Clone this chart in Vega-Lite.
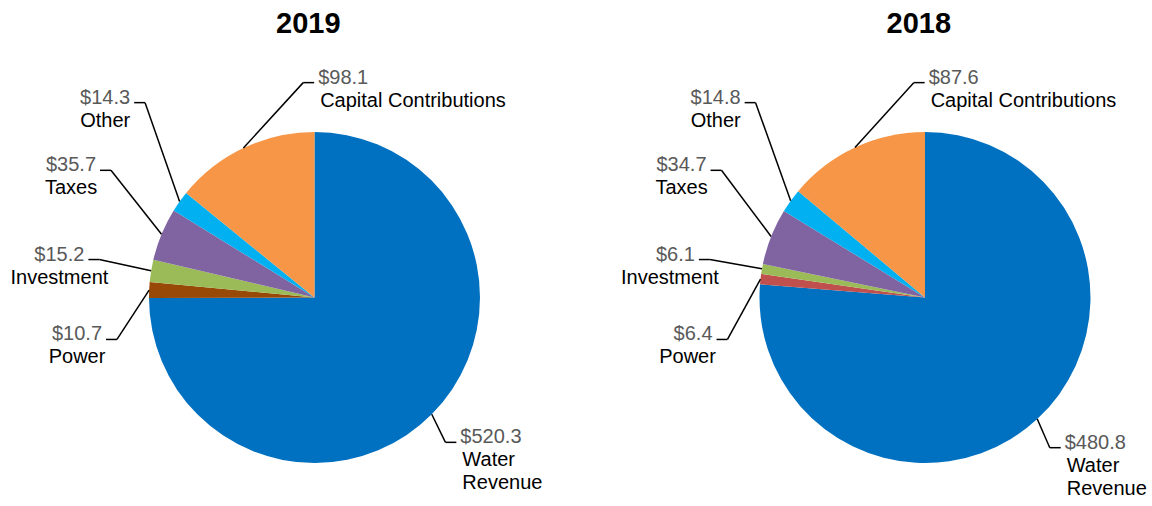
{
  "$schema": "https://vega.github.io/schema/vega-lite/v6.json",
  "padding": {"left": 0, "top": 10, "right": 0, "bottom": 0},
  "bounds": "flush",
  "data": {"values": [
    {"year": "2019", "category": "Water Revenue", "value": 520.3},
    {"year": "2019", "category": "Power", "value": 10.7},
    {"year": "2019", "category": "Investment", "value": 15.2},
    {"year": "2019", "category": "Taxes", "value": 35.7},
    {"year": "2019", "category": "Other", "value": 14.3},
    {"year": "2019", "category": "Capital Contributions", "value": 98.1},
    {"year": "2018", "category": "Water Revenue", "value": 480.8},
    {"year": "2018", "category": "Power", "value": 6.4},
    {"year": "2018", "category": "Investment", "value": 6.1},
    {"year": "2018", "category": "Taxes", "value": 34.7},
    {"year": "2018", "category": "Other", "value": 14.8},
    {"year": "2018", "category": "Capital Contributions", "value": 87.6}
  ]},
  "transform": [
    {"window": [{"op": "row_number", "as": "rn"}], "groupby": ["year"]},
    {"window": [{"op": "sum", "field": "value", "as": "cum"}], "groupby": ["year"], "sort": [{"field": "rn"}], "frame": [null, 0]},
    {"joinaggregate": [{"op": "sum", "field": "value", "as": "total"}], "groupby": ["year"]},
    {"calculate": "2*PI*(datum.cum - datum.value)/datum.total", "as": "a0"},
    {"calculate": "2*PI*datum.cum/datum.total", "as": "a1"},
    {"calculate": "(datum.a0 + datum.a1)/2", "as": "mid"},
    {"calculate": "datum.rn - 1", "as": "i"},
    {"calculate": "datum.i == 0 ? datum.mid + 3*PI/180 : [0, 258, 280, 302, 319, 357][datum.i]*PI/180", "as": "ea"},
    {"calculate": "[1.18, 1.22, 1.32, 1.45, 1.56, 1.3][datum.i]", "as": "er"},
    {"calculate": "sin(datum.mid)", "as": "px"},
    {"calculate": "cos(datum.mid)", "as": "py"},
    {"calculate": "datum.er*sin(datum.ea)", "as": "ex"},
    {"calculate": "datum.er*cos(datum.ea)", "as": "ey"},
    {"calculate": "datum.ex < -0.3 ? -1 : 1", "as": "side"},
    {"calculate": "datum.ex + datum.side*0.066", "as": "tx"},
    {"calculate": "'$' + format(datum.value, '.1f')", "as": "vlabel"},
    {"calculate": "datum.ey < -0.5 ? split(datum.category, ' ') : datum.category", "as": "nlabel"},
    {"calculate": "datum.category == 'Power' ? 'Power ' + datum.year : datum.category", "as": "ckey"}
  ],
  "facet": {"column": {"field": "year", "type": "nominal", "sort": "descending",
    "header": {"title": null, "labelFontSize": 29, "labelFontWeight": "bold", "labelFont": "Liberation Sans", "labelColor": "#000000", "labelPadding": 20, "labelAlign": "left"}}},
  "spacing": 58.5,
  "spec": {
    "width": 552,
    "height": 446,
    "layer": [
      {
        "mark": {"type": "arc", "outerRadius": 165.5},
        "encoding": {
          "x": {"datum": 0, "type": "quantitative", "scale": {"domain": [-1.9, 1.435], "nice": false, "zero": false}, "axis": null},
          "y": {"datum": 0, "type": "quantitative", "scale": {"domain": [-1.254, 1.441], "nice": false, "zero": false}, "axis": null},
          "theta": {"field": "a0", "type": "quantitative", "scale": null},
          "theta2": {"field": "a1"},
          "color": {"field": "ckey", "type": "nominal", "legend": null,
            "scale": {"domain": ["Water Revenue", "Power 2019", "Power 2018", "Investment", "Taxes", "Other", "Capital Contributions"],
                      "range": ["#0070C0", "#984807", "#C0504D", "#9BBB59", "#8064A2", "#00B0F0", "#F79646"]}}
        }
      },
      {
        "mark": {"type": "rule", "color": "#000000", "strokeWidth": 1.5},
        "encoding": {
          "x": {"field": "px", "type": "quantitative"},
          "y": {"field": "py", "type": "quantitative"},
          "x2": {"field": "ex"},
          "y2": {"field": "ey"}
        }
      },
      {
        "mark": {"type": "rule", "color": "#000000", "strokeWidth": 1.5},
        "encoding": {
          "x": {"field": "ex", "type": "quantitative"},
          "y": {"field": "ey", "type": "quantitative"},
          "x2": {"field": "tx"},
          "y2": {"field": "ey"}
        }
      },
      {
        "transform": [{"filter": "datum.side < 0"}],
        "mark": {"type": "text", "align": "right", "baseline": "middle", "dx": -4, "dy": -5, "fontSize": 20, "font": "Liberation Sans", "color": "#595959"},
        "encoding": {
          "x": {"field": "tx", "type": "quantitative"},
          "y": {"field": "ey", "type": "quantitative"},
          "text": {"field": "vlabel", "type": "nominal"}
        }
      },
      {
        "transform": [{"filter": "datum.side < 0"}],
        "mark": {"type": "text", "align": "center", "baseline": "top", "dx": -29, "dy": 8, "fontSize": 20, "lineHeight": 23, "font": "Liberation Sans", "color": "#000000"},
        "encoding": {
          "x": {"field": "tx", "type": "quantitative"},
          "y": {"field": "ey", "type": "quantitative"},
          "text": {"field": "nlabel", "type": "nominal"}
        }
      },
      {
        "transform": [{"filter": "datum.side > 0"}],
        "mark": {"type": "text", "align": "left", "baseline": "middle", "dx": 4, "dy": -5, "fontSize": 20, "font": "Liberation Sans", "color": "#595959"},
        "encoding": {
          "x": {"field": "tx", "type": "quantitative"},
          "y": {"field": "ey", "type": "quantitative"},
          "text": {"field": "vlabel", "type": "nominal"}
        }
      },
      {
        "transform": [{"filter": "datum.side > 0"}],
        "mark": {"type": "text", "align": "left", "baseline": "top", "dx": 6, "dy": 8, "fontSize": 20, "lineHeight": 23, "font": "Liberation Sans", "color": "#000000"},
        "encoding": {
          "x": {"field": "tx", "type": "quantitative"},
          "y": {"field": "ey", "type": "quantitative"},
          "text": {"field": "nlabel", "type": "nominal"}
        }
      }
    ]
  },
  "config": {"view": {"stroke": null}}
}
